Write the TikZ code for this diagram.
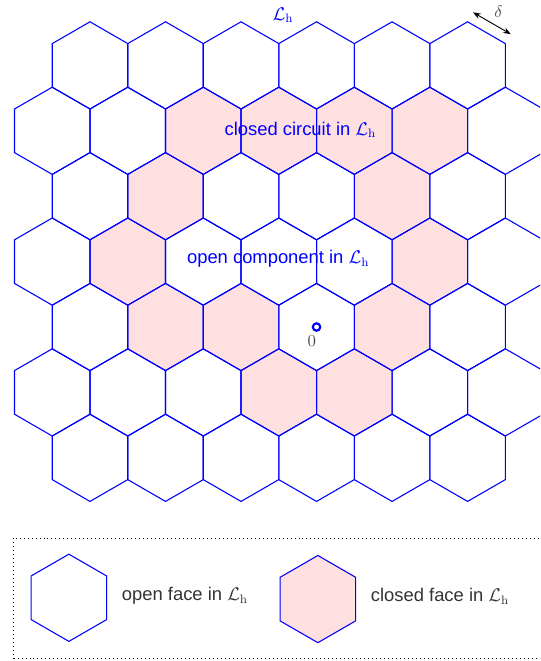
\documentclass[tikz,border=0pt]{standalone}
\usepackage{amsmath}
\usepackage{fontspec}
\usepackage{tikz}
\usetikzlibrary{calc,arrows.meta}

\newfontfamily\labelfont{Liberation Sans}
\definecolor{closedpink}{RGB}{255,224,224}
\definecolor{keygray}{RGB}{51,51,51}

\tikzset{
  face/.style={draw=blue, line width=0.7pt},
  closedface/.style={fill=closedpink},
  bluelabel/.style={text=blue, font=\labelfont\fontsize{12}{14}\selectfont, inner sep=0pt},
  keylabel/.style={text=keygray, font=\labelfont\fontsize{12}{14}\selectfont, inner sep=0pt, anchor=west},
  marklabel/.style={text=black!70, font=\fontsize{11}{13}\selectfont, inner sep=0pt}
}

\begin{document}
\begin{tikzpicture}
\useasboundingbox (-7.26,-7.66) rectangle (5.13,7.50);
\clip (-7.26,-7.66) rectangle (5.13,7.50);

% closed faces
\foreach \i/\j in {-1.5/3,-0.5/3,0.5/3,1.5/3,-2/2,1/2,-2.5/1,1.5/1,-2/0,-1/0,1/0,-0.5/-1,0.5/-1}
  \fill[closedface] (\i*1.732,\j*1.5) +(90:1) -- +(150:1) -- +(210:1) -- +(270:1) -- +(330:1) -- +(30:1) -- cycle;

% lattice
\foreach \j in {-2,0,2,4}
  \foreach \i in {-3,...,2}
    \draw[face] (\i*1.732,\j*1.5) +(90:1) -- +(150:1) -- +(210:1) -- +(270:1) -- +(330:1) -- +(30:1) -- cycle;
\foreach \j in {-1,1,3}
  \foreach \i in {-3.5,-2.5,...,2.5}
    \draw[face] (\i*1.732,\j*1.5) +(90:1) -- +(150:1) -- +(210:1) -- +(270:1) -- +(330:1) -- +(30:1) -- cycle;

\node[bluelabel] (lattice) at (-0.77,7.15) {$\mathcal{L}_\mathrm{h}$};
\node[bluelabel] (circuit) at (-0.37,4.52) {closed circuit in $\mathcal{L}_\mathrm{h}$};
\node[bluelabel] (component) at (-0.88,1.56) {open component in $\mathcal{L}_\mathrm{h}$};

\node[draw=blue, circle, line width=1.4pt, minimum size=0.17cm, inner sep=0pt] (origin) at (0,0) {};
\node[marklabel] (zero) at (-0.11,-0.33) {$0$};

% edge length
\coordinate (deltaA) at ($(3.464,7)+(60:0.25)$);
\coordinate (deltaB) at ($(4.330,6.5)+(60:0.25)$);
\draw[{Stealth[length=5pt]}-{Stealth[length=5pt]}, line width=0.6pt] (deltaA) -- node[marklabel, shift={(60:0.3)}] (delta) {$\delta$} (deltaB);

% legend
\draw[dotted, line width=0.6pt] (-6.94,-4.85) rectangle (5.6,-7.60);
\coordinate (openkey) at (-5.68,-6.21);
\coordinate (closedkey) at (0.03,-6.24);
\draw[face] (openkey) +(90:1) -- +(150:1) -- +(210:1) -- +(270:1) -- +(330:1) -- +(30:1) -- cycle;
\draw[face, closedface] (closedkey) +(90:1) -- +(150:1) -- +(210:1) -- +(270:1) -- +(330:1) -- +(30:1) -- cycle;
\node[keylabel] (opentext) at ($(openkey)+(1.21,0.04)$) {open face in $\mathcal{L}_\mathrm{h}$};
\node[keylabel] (closedtext) at ($(closedkey)+(1.21,0.07)$) {closed face in $\mathcal{L}_\mathrm{h}$};
\end{tikzpicture}
\end{document}
